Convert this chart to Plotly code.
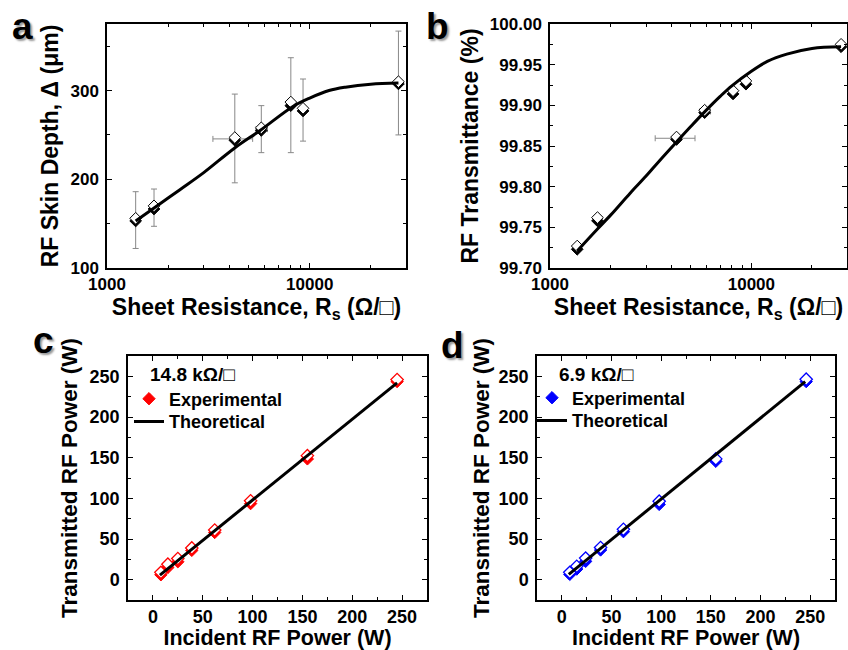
import plotly.graph_objects as go

# ---------------- data ----------------
# panel a: RF skin depth vs sheet resistance
a_rs = [1385, 1706, 4270, 5770, 8070, 9270, 27400]
a_depth_fill = [153, 166.5, 244, 255, 283, 277, 307.5]
a_depth_open = [156, 170, 247, 258, 287, 280, 310]
a_err_upper = [186, 189, 296, 283, 337, 313, 367]
a_err_lower = [122, 147, 196, 230, 230, 243, 250]
a_xerr_rs = [4270, 5770]
a_xerr_y = [245.5, 256.5]
a_xerr_low = [3330, 5430]
a_xerr_high = [5230, 6190]
a_fit_rs = [1385, 1700, 2280, 3000, 4250, 5740, 8230, 10000, 12450, 15000, 20000, 27400]
a_fit_depth = [153, 167.3, 188, 207.5, 235, 255.6, 281.8, 291.5, 300, 303.8, 307.2, 308.5]

# panel b: RF transmittance vs sheet resistance
b_rs = [1365, 1721, 4250, 5860, 8110, 9400, 27900]
b_t_fill = [99.723, 99.758, 99.858, 99.891, 99.914, 99.926, 99.972]
b_t_open = [99.727, 99.762, 99.861, 99.894, 99.918, 99.930, 99.975]
b_xerr_rs = [4250, 5860]
b_xerr_y = [99.8595, 99.8925]
b_xerr_low = [3330, 5540]
b_xerr_high = [5250, 6270]
b_fit_rs = [1365, 1721, 2000, 2500, 3000, 3500, 4250, 5000, 5860, 7000, 8000,
            10000, 12000, 15000, 20000, 27900]
b_fit_t = [99.721, 99.748, 99.765, 99.792, 99.813, 99.832, 99.855, 99.874,
           99.892, 99.911, 99.924, 99.942, 99.954, 99.963, 99.970, 99.972]

# panel c: 14.8 kOhm/sq
c_in = [8, 15, 25, 39, 62, 98, 155, 245]
c_out_fill = [6, 15, 22, 36, 58, 93.5, 148.5, 243.5]
c_out_open = [9, 19, 26, 39, 61, 97, 152.5, 246]
c_theory_in = [7, 245]
c_theory_out = [5.5, 242]

# panel d: 6.9 kOhm/sq
d_in = [8, 15, 24, 39, 62, 98, 155, 246]
d_out_fill = [6.5, 13, 22.5, 36.5, 59, 92.5, 145.5, 243.5]
d_out_open = [9, 16.5, 26.5, 39.5, 62, 96.5, 148.5, 246.5]
d_theory_in = [7, 245]
d_theory_out = [6.5, 243.5]

rs_ticks = [1000, 10000]
rs_ticktext = ["1000", "10000"]
rs_minor = [2000, 3000, 4000, 5000, 6000, 7000, 8000, 9000, 20000]
power_ticks = [0, 50, 100, 150, 200, 250]

c_label = "14.8 kΩ/□"
d_label = "6.9 kΩ/□"

# ---------------- styling ----------------
F = "Liberation Sans"
W = 848
H = 650


def px_x(p):
    return p / W


def px_y(p):
    return 1 - p / H


def axis(domain, anchor, title, standoff, tsize, lstand=3, fsize=17, **kw):
    d = dict(
        domain=domain, anchor=anchor, automargin=False,
        showline=True, linecolor="black", linewidth=1.5, mirror="allticks",
        ticks="inside", ticklen=5, tickwidth=1.3, tickcolor="black",
        showgrid=False, zeroline=False,
        tickfont=dict(family=F, size=fsize, color="black", weight="bold"),
        title=dict(text=title, standoff=standoff,
                   font=dict(family=F, size=tsize, color="black", weight="bold")),
        ticklabelstandoff=lstand,
    )
    d.update(kw)
    return d


def minor_lin(dt):
    return dict(ticks="inside", ticklen=3, tickwidth=1, tickcolor="black", dtick=dt)


minor_log = dict(ticks="inside", ticklen=3, tickwidth=1, tickcolor="black",
                 tickmode="array", tickvals=rs_minor)

fig = go.Figure()

ERR = dict(type="data", symmetric=False, color="#888888", thickness=1, width=3)

# ---- panel a ----
a_mid = [(u + l) / 2 for u, l in zip(a_err_upper, a_err_lower)]
fig.add_trace(go.Scatter(
    x=a_rs, y=a_mid, mode="markers",
    marker=dict(size=1, color="rgba(0,0,0,0)"), showlegend=False,
    error_y=dict(ERR, array=[u - m for u, m in zip(a_err_upper, a_mid)],
                 arrayminus=[m - l for l, m in zip(a_err_lower, a_mid)]),
    xaxis="x", yaxis="y"))
fig.add_trace(go.Scatter(
    x=a_xerr_rs, y=a_xerr_y, mode="markers", marker=dict(size=1, color="rgba(0,0,0,0)"),
    showlegend=False,
    error_x=dict(ERR, array=[h - x for h, x in zip(a_xerr_high, a_xerr_rs)],
                 arrayminus=[x - l for l, x in zip(a_xerr_low, a_xerr_rs)]),
    xaxis="x", yaxis="y"))
fig.add_trace(go.Scatter(x=a_rs, y=a_depth_fill, mode="markers", showlegend=False,
                         marker=dict(symbol="diamond", size=9, color="black",
                                     line=dict(color="black", width=1)),
                         xaxis="x", yaxis="y"))
fig.add_trace(go.Scatter(x=a_rs, y=a_depth_open, mode="markers", showlegend=False,
                         marker=dict(symbol="diamond", size=9, color="white",
                                     line=dict(color="black", width=1)),
                         xaxis="x", yaxis="y"))
fig.add_trace(go.Scatter(x=a_fit_rs, y=a_fit_depth, mode="lines", showlegend=False,
                         line=dict(color="black", width=3, shape="spline"),
                         xaxis="x", yaxis="y"))

# ---- panel b ----
fig.add_trace(go.Scatter(
    x=b_xerr_rs, y=b_xerr_y, mode="markers", marker=dict(size=1, color="rgba(0,0,0,0)"),
    showlegend=False,
    error_x=dict(ERR, array=[h - x for h, x in zip(b_xerr_high, b_xerr_rs)],
                 arrayminus=[x - l for l, x in zip(b_xerr_low, b_xerr_rs)]),
    xaxis="x2", yaxis="y2"))
fig.add_trace(go.Scatter(x=b_rs, y=b_t_fill, mode="markers", showlegend=False,
                         marker=dict(symbol="diamond", size=9, color="black",
                                     line=dict(color="black", width=1)),
                         xaxis="x2", yaxis="y2"))
fig.add_trace(go.Scatter(x=b_rs, y=b_t_open, mode="markers", showlegend=False,
                         marker=dict(symbol="diamond", size=9, color="white",
                                     line=dict(color="black", width=1)),
                         xaxis="x2", yaxis="y2"))
fig.add_trace(go.Scatter(x=b_fit_rs, y=b_fit_t, mode="lines", showlegend=False,
                         line=dict(color="black", width=3, shape="spline"),
                         xaxis="x2", yaxis="y2"))


# ---- panels c, d ----
def power_panel(xin, yfill, yopen, tin, tout, color, xa, ya, leg_e, leg_t):
    fig.add_trace(go.Scatter(x=xin, y=yfill, mode="markers", name="Experimental",
                             legend=leg_e, legendgroup=leg_e,
                             marker=dict(symbol="diamond", size=9.5, color=color,
                                         line=dict(color=color, width=1)),
                             xaxis=xa, yaxis=ya))
    fig.add_trace(go.Scatter(x=xin, y=yopen, mode="markers", showlegend=False,
                             legendgroup=leg_e,
                             marker=dict(symbol="diamond", size=9.5, color="white",
                                         line=dict(color=color, width=1.3)),
                             xaxis=xa, yaxis=ya))
    fig.add_trace(go.Scatter(x=tin, y=tout, mode="lines", name="Theoretical",
                             legend=leg_t, line=dict(color="black", width=3),
                             xaxis=xa, yaxis=ya))


power_panel(c_in, c_out_fill, c_out_open, c_theory_in, c_theory_out, "red",
            "x3", "y3", "legend", "legend3")
power_panel(d_in, d_out_fill, d_out_open, d_theory_in, d_theory_out, "blue",
            "x4", "y4", "legend2", "legend4")

rs_title = "Sheet Resistance, R<sub>s</sub> (Ω/□)"

legfont = dict(family=F, size=18, color="black", weight="bold")


def leg(xp, yp):
    return dict(x=px_x(xp), y=px_y(yp), xanchor="left", yanchor="middle",
                bgcolor="rgba(0,0,0,0)", font=legfont, tracegroupgap=0,
                borderwidth=0)


fig.update_layout(
    template="none",
    width=W, height=H, autosize=False,
    margin=dict(l=0, r=0, t=0, b=0, pad=0),
    paper_bgcolor="white", plot_bgcolor="white",
    xaxis=axis([px_x(107), px_x(406)], "y", rs_title, 0, 23, lstand=0, type="log",
               range=[3, 4.475], tickmode="array", tickvals=rs_ticks, ticktext=rs_ticktext,
               minor=minor_log),
    yaxis=axis([px_y(268), px_y(24)], "x", "RF Skin Depth, Δ (μm)", 5, 23,
               range=[100, 375], tickmode="array", tickvals=[100, 200, 300],
               minor=minor_lin(50)),
    xaxis2=axis([px_x(550), px_x(847)], "y2", rs_title, 0, 23, lstand=0, type="log",
                range=[3, 4.475], tickmode="array", tickvals=rs_ticks, ticktext=rs_ticktext,
                minor=minor_log),
    yaxis2=axis([px_y(268), px_y(24)], "x2", "RF Transmittance (%)", 5, 23,
                range=[99.70, 100.00], dtick=0.05, tick0=99.70, tickformat=".2f",
                minor=minor_lin(0.025)),
    xaxis3=axis([px_x(128), px_x(427)], "y3", "Incident RF Power (W)", 4, 21.5,
                lstand=0, fsize=18,
                range=[-25, 275], tickmode="array", tickvals=power_ticks,
                minor=minor_lin(25)),
    yaxis3=axis([px_y(600), px_y(356)], "x3", "Transmitted RF Power (W)", 6, 22.5, fsize=18,
                range=[-25, 275], tickmode="array", tickvals=power_ticks,
                minor=minor_lin(25)),
    xaxis4=axis([px_x(537), px_x(835)], "y4", "Incident RF Power (W)", 4, 21.5,
                lstand=0, fsize=18,
                range=[-25, 275], tickmode="array", tickvals=power_ticks,
                minor=minor_lin(25)),
    yaxis4=axis([px_y(600), px_y(356)], "x4", "Transmitted RF Power (W)", 3, 22.5, fsize=18,
                range=[-25, 275], tickmode="array", tickvals=power_ticks,
                minor=minor_lin(25)),
    legend=leg(129, 399),
    legend3=leg(129, 421.7),
    legend2=leg(532, 398),
    legend4=leg(532, 420.7),
)

# legend headers (sheet resistance of each sample)
for txt, lx, ly in [(c_label, 148, 375), (d_label, 556.7, 375)]:
    fig.add_annotation(text=txt, x=px_x(lx), y=px_y(ly), xref="paper", yref="paper",
                       xanchor="left", yanchor="middle", showarrow=False,
                       font=dict(family=F, size=19, color="black", weight="bold"))

# panel letters with soft shadow
letters = [("a", 22.5, 26), ("b", 437, 26.5), ("c", 43, 340.5), ("d", 452.5, 346)]
for t, lx, ly in letters:
    fig.add_annotation(text=t, x=px_x(lx), y=px_y(ly), xref="paper", yref="paper",
                       xanchor="center", yanchor="middle", showarrow=False,
                       font=dict(family=F, size=37, color="black", weight="bold",
                                 shadow="2px 2px 2px #9a9a9a"))

fig.write_html("out.html")
